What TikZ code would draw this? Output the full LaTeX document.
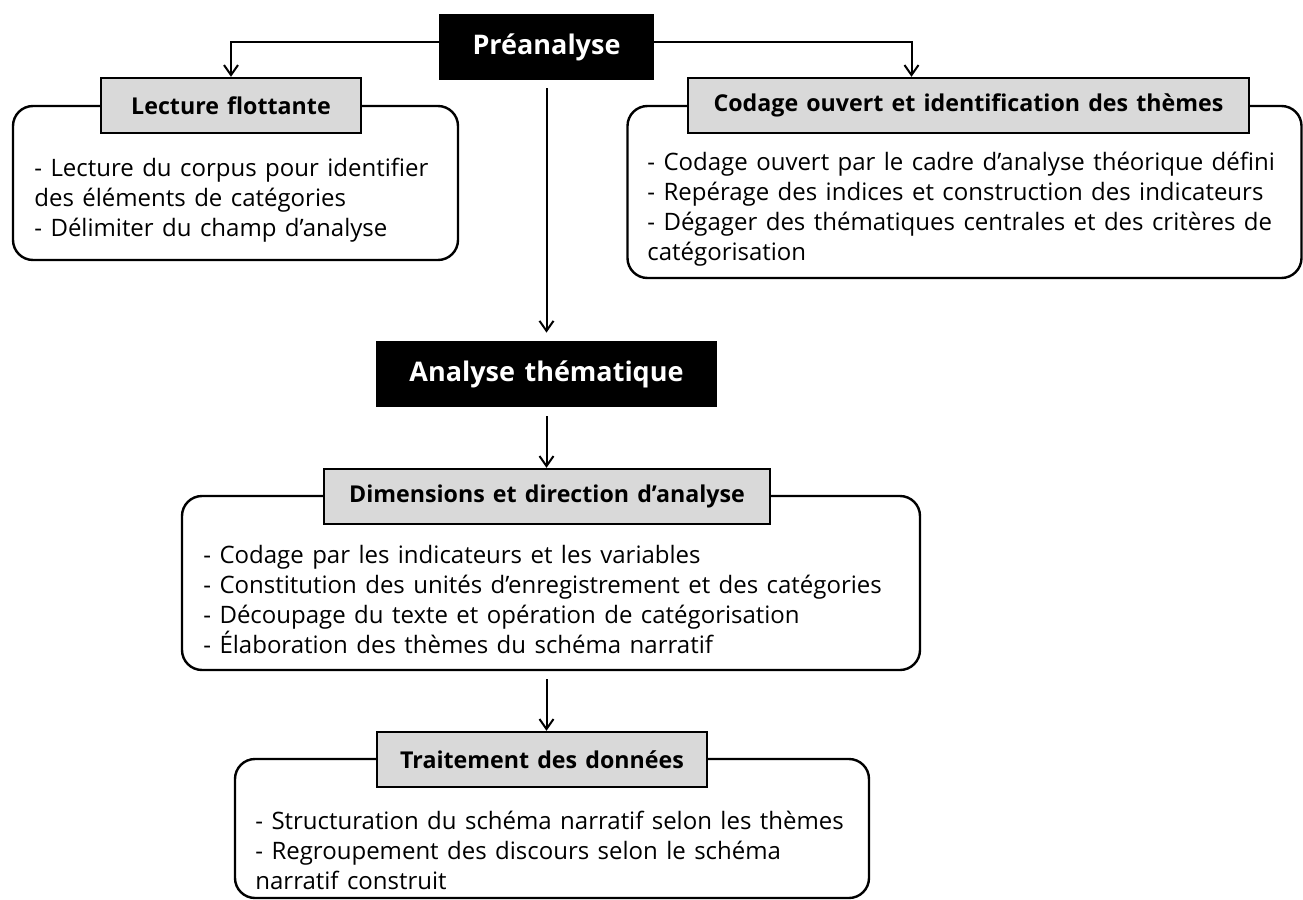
\documentclass[tikz,border=0pt]{standalone}
\usepackage{fontspec}
\setmainfont{Open Sans}[WordSpace=1.35]
\usetikzlibrary{arrows.meta}

\begin{document}
\begin{tikzpicture}[x=0.5pt,y=-0.5pt,
  stage/.style={fill=black,text=white,font=\bfseries\fontsize{13.5}{16}\selectfont,inner sep=0pt,minimum height=33pt},
  head/.style={draw,line width=1.2pt,fill=black!15,font=\bfseries\fontsize{11.6}{14}\selectfont,inner sep=0pt,minimum height=27.5pt},
  panel/.style={draw,line width=1.2pt,rounded corners=10pt,inner sep=0pt},
  body/.style={anchor=west,align=left,inner sep=0pt,font=\fontsize{12}{15}\selectfont},
  link/.style={line width=1pt,-{Straight Barb[length=5pt,width=7pt]}}]
\useasboundingbox (0,0) rectangle (1303,900);
% panels
\node[panel,minimum width=222.5pt,minimum height=77pt] (lecbox) at (235.5,183) {};
\node[panel,minimum width=337pt,minimum height=86pt] (codbox) at (964.5,192) {};
\node[panel,minimum width=369pt,minimum height=87pt] (dimbox) at (551,583) {};
\node[panel,minimum width=317pt,minimum height=69.5pt] (trabox) at (552,828.5) {};
% headers
\node[head,minimum width=130pt] (lechead) at (231,105.5) {Lecture flottante};
\node[head,minimum width=280.5pt] (codhead) at (968.5,105.5) {Codage ouvert et identification des thèmes};
\node[head,minimum width=223pt] (dimhead) at (547,496.5) {Dimensions et direction d’analyse};
\node[head,minimum width=165pt] (trahead) at (542,759.5) {Traitement des données};
\node[stage,minimum width=107.5pt] (pre) at (546.5,47) {Préanalyse};
\node[stage,minimum width=170.5pt] (ana) at (546.5,374) {Analyse thématique};
% texts
\node[body] (lectxt) at (34,200) {- Lecture du corpus pour identifier\\des éléments de catégories\\- Délimiter du champ d’analyse};
\node[body] (codtxt) at (647,209) {- Codage ouvert par le cadre d’analyse théorique défini\\- Repérage des indices et construction des indicateurs\\- Dégager des thématiques centrales et des critères de\\catégorisation};
\node[body] (dimtxt) at (203,599.5) {- Codage par les indicateurs et les variables\\- Constitution des unités d’enregistrement et des catégories\\- Découpage du texte et opération de catégorisation\\- Élaboration des thèmes du schéma narratif};
\node[body] (tratxt) at (255,850) {- Structuration du schéma narratif selon les thèmes\\- Regroupement des discours selon le schéma\\narratif construit};
% arrows
\draw[link] ([yshift=2.5pt]pre.west) -| (lechead.north);
\draw[link] ([yshift=2.5pt]pre.east) -| ([xshift=-28.5pt]codhead.north);
\draw[link,shorten <=4pt,shorten >=4pt] (pre) -- (ana);
\draw[link,shorten <=4.5pt] (ana.south) -- (ana.south |- dimhead.north);
\draw[link,shorten <=4pt] (ana.south |- dimbox.south) -- (ana.south |- trahead.north);
\end{tikzpicture}
\end{document}
